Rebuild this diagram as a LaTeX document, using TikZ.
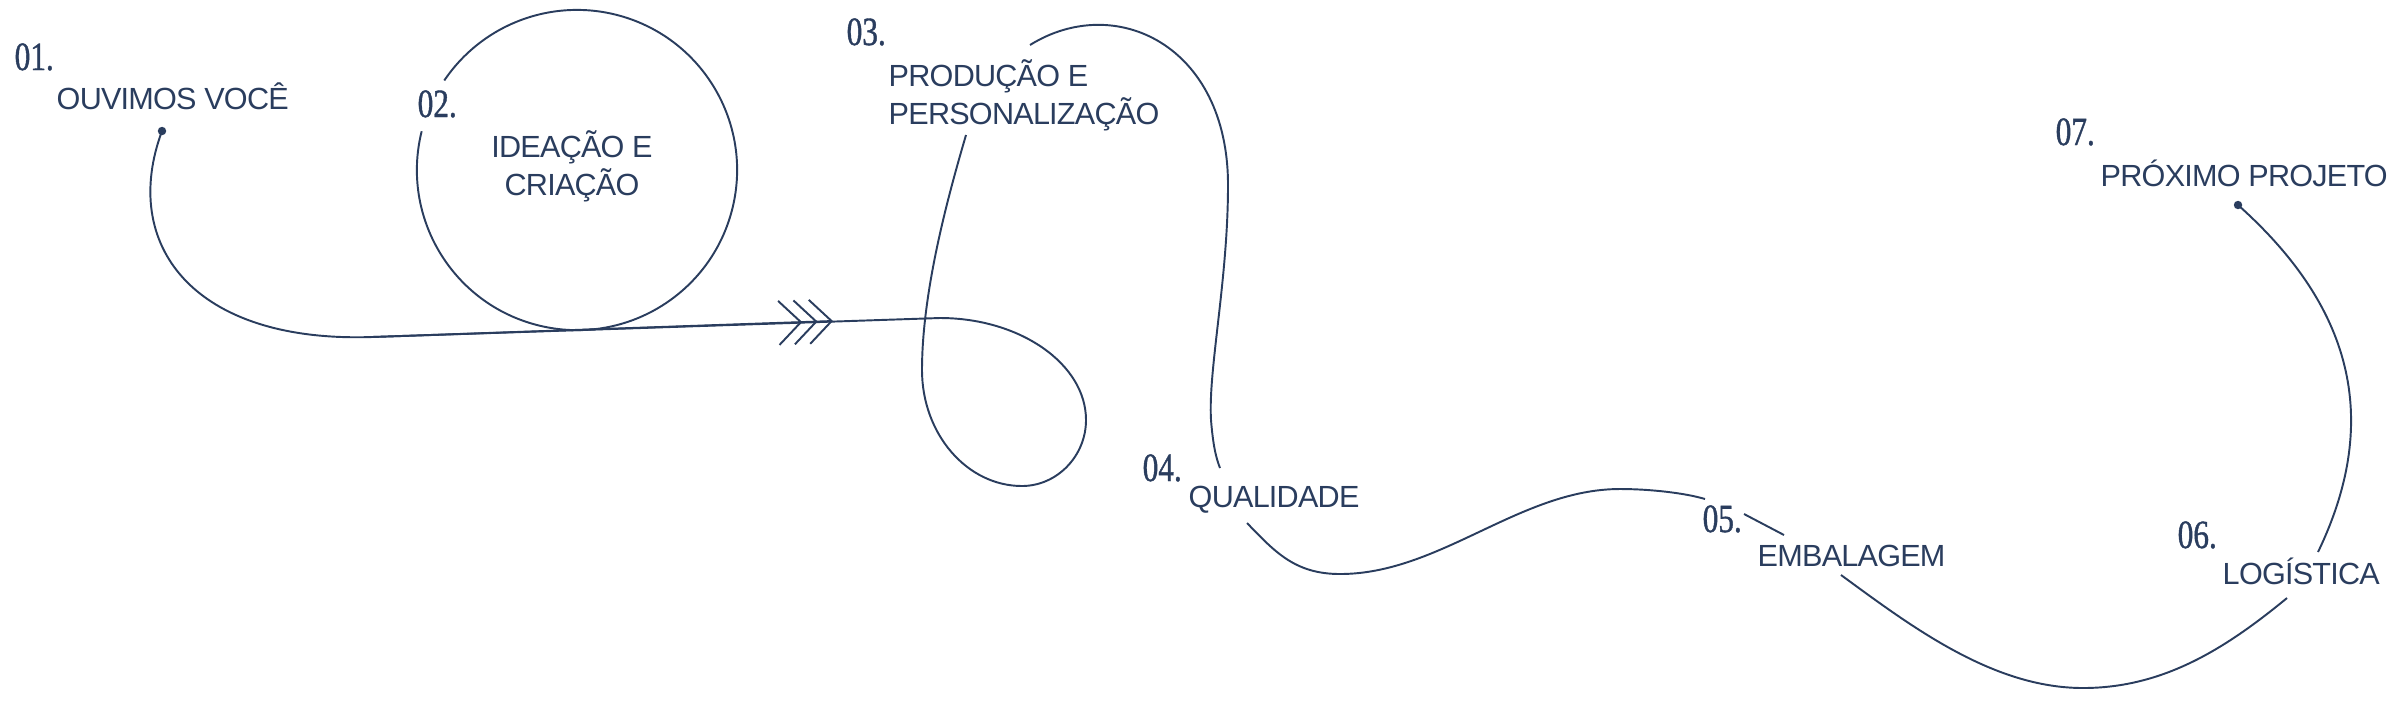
\documentclass[tikz,border=0pt]{standalone}
\usepackage{fontspec}
\usepackage{xcolor}
\usepackage{tikz}
\usetikzlibrary{arrows.meta}
\definecolor{Navy}{HTML}{2A3D5E}
\newfontfamily\labelfont[LetterSpace=-2.5]{Liberation Sans}
\newfontfamily\stepfont[FakeStretch=0.78,FakeBold=1]{Liberation Serif}

\begin{document}
\begin{tikzpicture}[x=0.01cm,y=-0.01cm,
                      flow/.style={draw=Navy,line width=.55pt},
                      stepnum/.style={inner sep=0pt,anchor=base west,text=Navy,font={\stepfont\fontsize{11.4pt}{12pt}\selectfont}},
                      steplabel/.style={inner sep=0pt,anchor=base west,text=Navy,font={\labelfont\fontsize{8.7pt}{10.8pt}\selectfont}}]
    \useasboundingbox (0,0) rectangle (2400,705);
    \node[stepnum] (num-01) at (14,70) {01.};
    \node[steplabel] (lab-01) at (56,109) {OUVIMOS VOCÊ};
    \node[stepnum] (num-02) at (417,117) {02.};
    \node[steplabel,anchor=base,align=center] (lab-02) at (572,195) {IDEAÇÃO E\\CRIAÇÃO};
    \node[stepnum] (num-03) at (846,45) {03.};
    \node[steplabel,align=left] (lab-03) at (888,124) {PRODUÇÃO E\\PERSONALIZAÇÃO};
    \node[stepnum] (num-04) at (1142,481) {04.};
    \node[steplabel] (lab-04) at (1188,507) {QUALIDADE};
    \node[stepnum] (num-05) at (1702,532) {05.};
    \node[steplabel] (lab-05) at (1757,566) {EMBALAGEM};
    \node[stepnum] (num-06) at (2177,548) {06.};
    \node[steplabel] (lab-06) at (2222,584) {LOGÍSTICA};
    \node[stepnum] (num-07) at (2055,145) {07.};
    \node[steplabel] (lab-07) at (2100,186) {PRÓXIMO PROJETO};
    \node[coordinate] (dot-01) at (162,131) {};
    \node[coordinate] (bend-01) at (372,337) {};
    \node[coordinate] (chev) at (833,321) {};
    \node[coordinate] (loop-in) at (940,318) {};
    \node[coordinate] (loop-r) at (1086,420) {};
    \node[coordinate] (loop-b) at (1022,486) {};
    \node[coordinate] (loop-l) at (922,370) {};
    \node[coordinate] (end-02) at (966,135) {};
    \node[coordinate] (c-02) at (577,170) {};
    \node[coordinate] (start-03) at (1030,45) {};
    \node[coordinate] (side-03) at (1228,185) {};
    \node[coordinate] (low-03) at (1211,420) {};
    \node[coordinate] (end-03) at (1220,468) {};
    \node[coordinate] (start-04) at (1247,523) {};
    \node[coordinate] (low-04) at (1340,574) {};
    \node[coordinate] (top-04) at (1620,489) {};
    \node[coordinate] (end-04) at (1705,499) {};
    \node[coordinate] (start-05) at (1744,514) {};
    \node[coordinate] (end-05) at (1784,535) {};
    \node[coordinate] (start-06) at (1841,575) {};
    \node[coordinate] (low-06) at (2083,688) {};
    \node[coordinate] (end-06) at (2287,598) {};
    \node[coordinate] (start-07) at (2318,552) {};
    \node[coordinate] (dot-07) at (2238,205) {};
    \draw[flow] (dot-01) .. controls (120,244) and (192,343) .. (bend-01) -- (loop-in)
      .. controls (1020,318) and (1086,364) .. (loop-r)
      .. controls (1086,456) and (1057,486) .. (loop-b)
      .. controls (967,486) and (922,434) .. (loop-l)
      .. controls (922,290) and (949,193) .. (end-02);
    \draw[flow,-{Straight Barb[length=6.3pt,width=12.5pt,sep=-2.6pt]Straight Barb[length=6.3pt,width=12.5pt,sep=-2.6pt]Straight Barb[length=6.3pt,width=12.5pt]}] (bend-01) -- (chev);
    \draw[flow] (c-02) ++(166:1.6cm) arc[start angle=166,end angle=506,radius=1.6cm];
    \draw[flow] (start-03) .. controls (1115,-8) and (1228,45) .. (side-03)
      .. controls (1228,280) and (1208,370) .. (low-03)
      .. controls (1213,445) and (1216,458) .. (end-03);
    \draw[flow] (start-04) .. controls (1275,552) and (1295,574) .. (low-04)
      .. controls (1440,574) and (1520,489) .. (top-04)
      .. controls (1650,489) and (1685,493) .. (end-04);
    \draw[flow] (start-05) -- (end-05);
    \draw[flow] (start-06) .. controls (1912,627) and (1993,688) .. (low-06)
      .. controls (2163,688) and (2225,649) .. (end-06);
    \draw[flow] (start-07) .. controls (2383,417) and (2350,305) .. (dot-07);
    \fill[Navy] (dot-01) circle[radius=1.2pt];
    \fill[Navy] (dot-07) circle[radius=1.2pt];
\end{tikzpicture}
\end{document}
